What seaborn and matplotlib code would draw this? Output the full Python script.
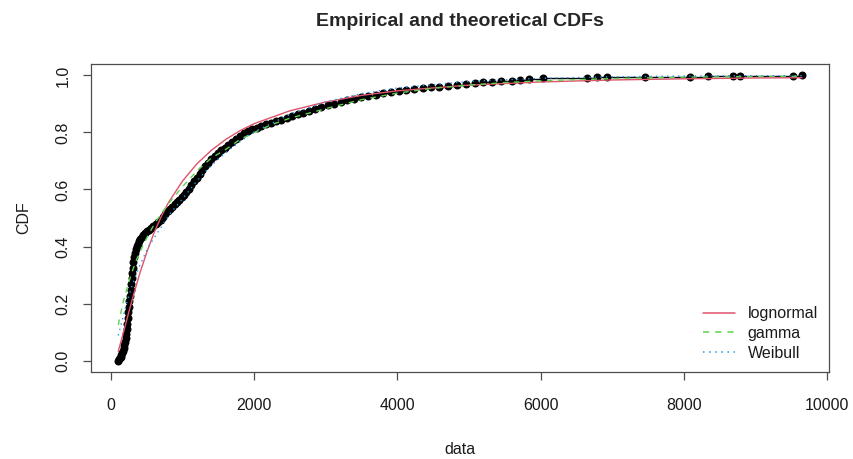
import numpy as np
import pandas as pd
import matplotlib
matplotlib.use("Agg")
import matplotlib.pyplot as plt
import seaborn as sns

# ---------------- data ----------------
ecdf_x = [105, 115, 125, 135, 145, 155, 165, 175, 185, 195, 203, 211, 219, 227,
          235, 243, 251, 258, 265, 273, 281, 289, 297, 305, 313, 324, 336, 349,
          363, 378, 394, 411, 430, 452, 476, 502, 530, 560, 592, 625, 660, 692,
          725, 758, 790, 822, 855, 888, 920, 952, 985, 1018, 1052, 1087, 1123,
          1160, 1198, 1237, 1277, 1318, 1360, 1403, 1448, 1494, 1541, 1590, 1640,
          1692, 1745, 1800, 1857, 1916, 1976, 2038, 2102, 2168, 2236, 2306, 2378,
          2452, 2528, 2606, 2686, 2768, 2852, 2938, 3026, 3116, 3208, 3302, 3398,
          3496, 3596, 3698, 3802, 3908, 4016, 4126, 4238, 4352, 4468, 4586, 4706,
          4828, 4952, 5078, 5196, 5320, 5450, 5596, 5712, 5838, 6038, 6644, 6784,
          6923, 7458, 8087, 8342, 8691, 8785, 9529, 9647]
ecdf_p = [0.000, 0.004, 0.008, 0.013, 0.019, 0.026, 0.034, 0.043, 0.053, 0.064,
          0.078, 0.094, 0.111, 0.130, 0.150, 0.170, 0.189, 0.208, 0.228, 0.248,
          0.268, 0.288, 0.307, 0.326, 0.345, 0.362, 0.377, 0.390, 0.401, 0.410,
          0.419, 0.427, 0.433, 0.439, 0.446, 0.453, 0.459, 0.465, 0.472, 0.478,
          0.485, 0.493, 0.503, 0.513, 0.523, 0.532, 0.540, 0.548, 0.556, 0.564,
          0.573, 0.582, 0.592, 0.603, 0.615, 0.628, 0.641, 0.655, 0.668, 0.681,
          0.694, 0.706, 0.717, 0.727, 0.737, 0.746, 0.756, 0.766, 0.777, 0.789,
          0.799, 0.806, 0.812, 0.817, 0.823, 0.828, 0.834, 0.840, 0.845, 0.851,
          0.857, 0.863, 0.869, 0.876, 0.882, 0.889, 0.895, 0.901, 0.907, 0.913,
          0.918, 0.923, 0.928, 0.933, 0.938, 0.942, 0.946, 0.950, 0.953, 0.956,
          0.959, 0.961, 0.964, 0.966, 0.969, 0.972, 0.976, 0.978, 0.979, 0.981,
          0.984, 0.987, 0.990, 0.992, 0.993, 0.994, 0.995, 0.996, 0.997, 0.998,
          0.998, 0.999, 1.000]

lnorm_x = [102, 150, 200, 250, 300, 400, 500, 600, 700, 800, 1000, 1200, 1400,
           1600, 1800, 2000, 2500, 3000, 3500, 4000, 5000, 6000, 7000, 8000,
           9000, 9650]
lnorm_p = [0.032, 0.077, 0.123, 0.171, 0.217, 0.304, 0.380, 0.447, 0.504, 0.553,
           0.630, 0.690, 0.737, 0.775, 0.806, 0.831, 0.876, 0.907, 0.930, 0.946,
           0.966, 0.977, 0.984, 0.988, 0.991, 0.992]

gamma_x = [102, 130, 170, 220, 280, 350, 430, 520, 620, 730, 850, 1000, 1200,
           1400, 1600, 1800, 2000, 2250, 2500, 2800, 3100, 3500, 4000, 4500,
           5000, 5500, 6000, 7000, 8000, 9000, 9650]
gamma_p = [0.125, 0.160, 0.205, 0.250, 0.300, 0.350, 0.395, 0.440, 0.485, 0.525,
           0.565, 0.610, 0.665, 0.710, 0.740, 0.775, 0.800, 0.828, 0.850, 0.870,
           0.890, 0.915, 0.938, 0.955, 0.966, 0.975, 0.981, 0.989, 0.994, 0.996,
           0.997]

weib_x = [102, 150, 233, 320, 405, 521, 684, 824, 1034, 1250, 1500, 1750, 2000,
          2500, 3000, 3500, 4000, 5000, 6000, 7000, 8000, 9000, 9650]
weib_p = [0.088, 0.135, 0.215, 0.280, 0.335, 0.398, 0.462, 0.515, 0.578, 0.645,
          0.708, 0.759, 0.802, 0.863, 0.907, 0.936, 0.956, 0.979, 0.990, 0.995,
          0.998, 0.999, 0.999]

legend_labels = ["lognormal", "gamma", "Weibull"]
curve_colors = ["#DF536B", "#61D04F", "#2297E6"]
x_ticks = [0, 2000, 4000, 6000, 8000, 10000]
y_ticks = [0.0, 0.2, 0.4, 0.6, 0.8, 1.0]

# ---------------- styling ----------------
sns.set_style("ticks")
plt.rcParams["font.family"] = ["Liberation Sans", "DejaVu Sans"]

W, H = 854, 459
fig = plt.figure(figsize=(W / 100, H / 100), dpi=100)
ax = fig.add_axes([91 / W, 1 - 372 / H, (829 - 91) / W, (372 - 64) / H])

# empirical CDF
sns.lineplot(x=ecdf_x, y=ecdf_p, ax=ax, color="black", lw=1.0,
             drawstyle="steps-post", estimator=None, sort=False, zorder=2)
sns.scatterplot(x=ecdf_x, y=ecdf_p, ax=ax, color="black", s=33,
                linewidth=0, zorder=3)

# theoretical CDFs
curves = pd.DataFrame({
    "x": lnorm_x + gamma_x + weib_x,
    "p": lnorm_p + gamma_p + weib_p,
    "dist": ([legend_labels[0]] * len(lnorm_x) + [legend_labels[1]] * len(gamma_x)
             + [legend_labels[2]] * len(weib_x)),
})
styles = ["-", (0, (4, 4)), (0, (1, 3))]
handles = []
for lab, col, ls in zip(legend_labels, curve_colors, styles):
    sub = curves[curves["dist"] == lab]
    sns.lineplot(data=sub, x="x", y="p", ax=ax, color=col, lw=1.0,
                 estimator=None, sort=False, zorder=4)
    ax.lines[-1].set_linestyle(ls)
    handles.append(plt.Line2D([], [], color=col, lw=1.1, linestyle=ls, label=lab))

ax.set_xlim(-279, 10028)
ax.set_ylim(-0.04, 1.04)
ax.set_xticks(x_ticks)
ax.set_xticklabels([str(v) for v in x_ticks])
ax.set_yticks(y_ticks)
ax.set_yticklabels([f"{v:.1f}" for v in y_ticks], rotation=90, va="center")

for s in ax.spines.values():
    s.set_visible(True)
    s.set_color("#4d4d4d")
    s.set_linewidth(0.9)
ax.tick_params(axis="both", direction="out", length=5.5, width=0.9,
               color="#4d4d4d", labelsize=11.5, labelcolor="#1a1a1a")
ax.tick_params(axis="x", pad=13)
ax.tick_params(axis="y", pad=9)

ax.set_xlabel("data", fontsize=11.5, color="#1a1a1a", labelpad=21)
ax.set_ylabel("CDF", fontsize=11.5, color="#1a1a1a", labelpad=18)
ax.set_title("Empirical and theoretical CDFs", fontsize=14, fontweight="bold",
             pad=27)

leg = ax.legend(handles=handles, loc="lower right", frameon=False,
                fontsize=11.5, handlelength=2.0, handletextpad=0.8,
                labelspacing=0.3, bbox_to_anchor=(1.0, 0.0), borderaxespad=0.3)
for t in leg.get_texts():
    t.set_color("#1a1a1a")

fig.savefig("out.png", dpi=100)
